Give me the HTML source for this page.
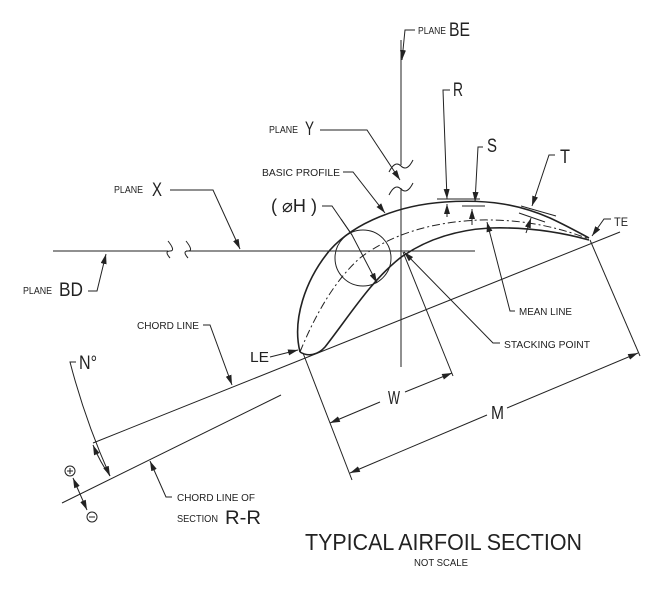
<!DOCTYPE html>
<html><head><meta charset="utf-8"><style>
html,body{margin:0;padding:0;background:#fff;}
svg{display:block;}
text{font-family:"Liberation Sans",sans-serif;fill:#222;}
</style></head><body>
<svg width="669" height="591" viewBox="0 0 669 591" xmlns="http://www.w3.org/2000/svg">
<defs>
<marker id="a" viewBox="0 0 10 6" refX="10" refY="3" markerWidth="10" markerHeight="6" orient="auto-start-reverse" markerUnits="userSpaceOnUse"><path d="M0,0 L10,3 L0,6 z" fill="#222"/></marker>
</defs>
<g stroke="#222" fill="none" stroke-width="1">
<path d="M401,40 V165"/><path d="M401,188 V367"/>
<path d="M389,172 q6,-12 12,-6 q6,6 12,-6" />
<path d="M389,195 q6,-12 12,-6 q6,6 12,-6" />
<path d="M53,251 H168"/><path d="M186,251 H475"/>
<path d="M170,258 q-6,-7 0,-7 q6,0 -2,-10"/>
<path d="M188,258 q-6,-7 0,-7 q6,0 -2,-10"/>
<path stroke-width="1.6" d="M300,352 C292,320 305,280 330,250 C355,222 400,205 445,202 C490,199 520,205 550,218 C565,225 578,232 589,238"/>
<path stroke-width="1.6" d="M589,240 C560,232 525,227 490,228 C455,230 425,240 400,258 C370,282 350,315 325,347 C318,355 308,357 300,352"/>
<path stroke-dasharray="8,3,2,3" d="M300,352 C315,315 335,280 360,258 C390,235 430,222 480,220 C530,219 565,230 589,239"/>
<circle cx="363" cy="258" r="28"/>
<path d="M93,443 L620,232"/>
<path d="M62,503 L281,395"/>
<path d="M303,353 L352,480"/>
<path d="M403,252 L453,376"/>
<path d="M590,240 L640,356"/>
<path d="M330,423 L380,402" marker-start="url(#a)"/><path d="M405,392 L452,373" marker-end="url(#a)"/>
<path d="M350,473 L487,415" marker-start="url(#a)"/><path d="M507,408 L638,353" marker-end="url(#a)"/>
<path d="M415,30 H405 L402,60" marker-end="url(#a)"/>
<path d="M320,130 H367 L400,180" marker-end="url(#a)"/>
<path d="M343,172 H353 L385,213" marker-end="url(#a)"/>
<path d="M322,206 H332 L352,235 L377,283" marker-end="url(#a)"/>
<path d="M352,235 L341,219"/>
<path d="M170,190 H213 L240,249" marker-end="url(#a)"/>
<path d="M88,291 H97 L106,254" marker-end="url(#a)"/>
<path d="M450,90 H443 L447,199" marker-end="url(#a)"/>
<path d="M483,147 H478 L475,202" marker-end="url(#a)"/>
<path d="M555,155 H549 L532,206" marker-end="url(#a)"/>
<path d="M611,219 H604 L592,236" marker-end="url(#a)"/>
<path d="M515,311 H510 L487,222" marker-end="url(#a)"/>
<path d="M500,343 H493 L404,252" marker-end="url(#a)"/>
<path d="M270,357 L298,350" marker-end="url(#a)"/>
<path d="M203,325 H210 L232,385" marker-end="url(#a)"/>
<path d="M172,497 H166 L150,461" marker-end="url(#a)"/>
<path d="M76,362 H70 Q85,420 110,476" marker-end="url(#a)"/>
<path d="M93,445 Q100,462 110,476" marker-start="url(#a)"/>
<path d="M73,478 L87,510" marker-start="url(#a)" marker-end="url(#a)"/>
<circle cx="70" cy="471" r="5"/><path d="M67,471 H73 M70,468 V474"/>
<circle cx="92" cy="517" r="5"/><path d="M89,517 H95"/>
<path d="M437,199 H480"/><path d="M462,206 H485"/>
<path d="M447,217 V204" marker-end="url(#a)"/><path d="M472,225 V209" marker-end="url(#a)"/>
<path d="M521,206 L556,216"/><path d="M519,213 L545,222"/>
<path d="M526,233 L531,218" marker-end="url(#a)"/>
</g>
<g lengthAdjust="spacingAndGlyphs">
<text x="418" y="34" font-size="10" textLength="28" lengthAdjust="spacingAndGlyphs">PLANE</text><text x="449" y="36" font-size="19" textLength="21" lengthAdjust="spacingAndGlyphs">BE</text>
<text x="269" y="133" font-size="10" textLength="29" lengthAdjust="spacingAndGlyphs">PLANE</text><text x="305" y="135" font-size="19" textLength="9" lengthAdjust="spacingAndGlyphs">Y</text>
<text x="262" y="176" font-size="10" textLength="78" lengthAdjust="spacingAndGlyphs">BASIC PROFILE</text>
<text x="271" y="212" font-size="18" textLength="46" lengthAdjust="spacingAndGlyphs">( ⌀H )</text>
<text x="114" y="193" font-size="10" textLength="29" lengthAdjust="spacingAndGlyphs">PLANE</text><text x="152" y="196" font-size="19" textLength="10" lengthAdjust="spacingAndGlyphs">X</text>
<text x="23" y="294" font-size="10" textLength="29" lengthAdjust="spacingAndGlyphs">PLANE</text><text x="59" y="296" font-size="19" textLength="24" lengthAdjust="spacingAndGlyphs">BD</text>
<text x="453" y="96" font-size="19" textLength="10" lengthAdjust="spacingAndGlyphs">R</text>
<text x="487" y="152" font-size="19" textLength="10" lengthAdjust="spacingAndGlyphs">S</text>
<text x="560" y="163" font-size="19" textLength="10" lengthAdjust="spacingAndGlyphs">T</text>
<text x="614" y="226" font-size="12" textLength="14" lengthAdjust="spacingAndGlyphs">TE</text>
<text x="519" y="315" font-size="10" textLength="53" lengthAdjust="spacingAndGlyphs">MEAN LINE</text>
<text x="504" y="348" font-size="10" textLength="86" lengthAdjust="spacingAndGlyphs">STACKING POINT</text>
<text x="250" y="362" font-size="15" textLength="19" lengthAdjust="spacingAndGlyphs">LE</text>
<text x="137" y="329" font-size="10" textLength="62" lengthAdjust="spacingAndGlyphs">CHORD LINE</text>
<text x="79" y="369" font-size="19" textLength="18" lengthAdjust="spacingAndGlyphs">N°</text>
<text x="177" y="501" font-size="10" textLength="78" lengthAdjust="spacingAndGlyphs">CHORD LINE OF</text>
<text x="177" y="522" font-size="10" textLength="41" lengthAdjust="spacingAndGlyphs">SECTION</text><text x="225" y="524" font-size="19" textLength="36" lengthAdjust="spacingAndGlyphs">R-R</text>
<text x="388" y="404" font-size="18" textLength="12" lengthAdjust="spacingAndGlyphs">W</text>
<text x="491" y="419" font-size="18" textLength="13" lengthAdjust="spacingAndGlyphs">M</text>
<text x="305" y="550" font-size="23" textLength="277" lengthAdjust="spacingAndGlyphs">TYPICAL AIRFOIL SECTION</text>
<text x="414" y="566" font-size="10" textLength="54" lengthAdjust="spacingAndGlyphs">NOT SCALE</text>
</g>
</svg>
</body></html>
